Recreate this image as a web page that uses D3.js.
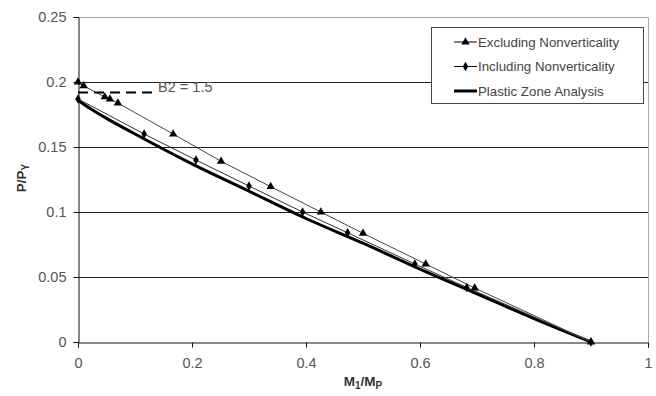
<!DOCTYPE html>
<html>
<head>
<meta charset="utf-8">
<script src="https://cdn.jsdelivr.net/npm/d3@7"></script>
<style>
  body { margin: 0; background: #fff; }
  text { font-family: "Liberation Sans", Arial, sans-serif; }
</style>
</head>
<body>
<div id="chart-area"></div>
<script>
// series: [M1/Mp, P/Py]
var excluding = [
  [0, 0.2], [0.01, 0.197], [0.047, 0.1885], [0.056, 0.1868], [0.07, 0.1838],
  [0.167, 0.16], [0.251, 0.139], [0.338, 0.1195], [0.426, 0.1], [0.5, 0.0836],
  [0.61, 0.06], [0.696, 0.0415], [0.9, 0]
];
var including = [
  [0, 0.187], [0.116, 0.16], [0.207, 0.14], [0.3, 0.12], [0.394, 0.1],
  [0.473, 0.084], [0.591, 0.06], [0.682, 0.042], [0.9, 0]
];
var plastic = [
  [0, 0.186], [0.02, 0.18], [0.05, 0.172], [0.1, 0.16], [0.2, 0.137],
  [0.3, 0.116], [0.4, 0.095], [0.5, 0.076], [0.6, 0.056], [0.7, 0.037],
  [0.8, 0.018], [0.9, 0]
];
var b2Line = [[0, 0.192], [0.13, 0.192]];
var b2Label = "B2 = 1.5";
var xTicks = [0, 0.2, 0.4, 0.6, 0.8, 1];
var yTicks = [0, 0.05, 0.1, 0.15, 0.2, 0.25];
var legendNames = ["Excluding Nonverticality", "Including Nonverticality", "Plastic Zone Analysis"];

var W = 656, H = 396;
var pLeft = 78, pRight = 648, pTop = 17, pBottom = 342;

var svg = d3.select("#chart-area")
  .append("svg")
  .attr("width", W)
  .attr("height", H);

var x = d3.scaleLinear().domain([0, 1]).range([pLeft, pRight]);
var y = d3.scaleLinear().domain([0, 0.25]).range([pBottom, pTop]);

// gridlines
svg.append("g")
  .selectAll("line")
  .data(yTicks.filter((d) => d > 0 && d < 0.25))
  .enter()
  .append("line")
  .attr("x1", pLeft)
  .attr("x2", pRight)
  .attr("y1", (d) => Math.round(y(d)) + 0.5)
  .attr("y2", (d) => Math.round(y(d)) + 0.5)
  .attr("stroke", "#222")
  .attr("stroke-width", 1);

// frame top/right
svg.append("path")
  .attr("d", `M${pLeft},${pTop + 0.5}H${pRight + 0.5}V${pBottom}`)
  .attr("fill", "none")
  .attr("stroke", "#aaa");

var fmt = (d) => d3.format("")(d);

var xAxis = svg.append("g")
  .attr("transform", `translate(0,${pBottom + 0.5})`)
  .call(d3.axisBottom(x).tickValues(xTicks).tickSize(5).tickPadding(9).tickFormat(fmt));
var yAxis = svg.append("g")
  .attr("transform", `translate(${pLeft + 0.5},0)`)
  .call(d3.axisLeft(y).tickValues(yTicks).tickSize(5).tickPadding(7).tickFormat(fmt));

[xAxis, yAxis].forEach((g) => {
  g.select(".domain").attr("stroke", "#111");
  g.selectAll(".tick line").attr("stroke", "#111");
  g.selectAll(".tick text")
    .attr("font-size", 14.5)
    .attr("fill", "#555")
    .attr("font-family", "'Liberation Sans', Arial, sans-serif");
});
xAxis.selectAll(".tick text").attr("dy", "0.8em");

var line = d3.line().x((d) => x(d[0])).y((d) => y(d[1]));

// plastic zone (thick)
svg.append("path")
  .datum(plastic)
  .attr("d", line.curve(d3.curveMonotoneX))
  .attr("fill", "none")
  .attr("stroke", "#000")
  .attr("stroke-width", 3);

line.curve(d3.curveLinear);

svg.append("path")
  .datum(including)
  .attr("d", line)
  .attr("fill", "none")
  .attr("stroke", "#333")
  .attr("stroke-width", 1);

svg.append("path")
  .datum(excluding)
  .attr("d", line)
  .attr("fill", "none")
  .attr("stroke", "#444")
  .attr("stroke-width", 1);

var tri = d3.symbol().type(d3.symbolTriangle).size(30);
var dia = d3.symbol().type(d3.symbolDiamond).size(26);

svg.append("g")
  .selectAll("path")
  .data(excluding)
  .enter()
  .append("path")
  .attr("d", tri)
  .attr("transform", (d) => `translate(${x(d[0])},${y(d[1])})`)
  .attr("fill", "#000");

svg.append("g")
  .selectAll("path")
  .data(including)
  .enter()
  .append("path")
  .attr("d", dia)
  .attr("transform", (d) => `translate(${x(d[0])},${y(d[1])})`)
  .attr("fill", "#000");

// B2 dashed line
svg.append("path")
  .datum(b2Line)
  .attr("d", line)
  .attr("stroke", "#000")
  .attr("stroke-width", 2)
  .attr("stroke-dasharray", "10,6")
  .attr("fill", "none");

svg.append("text")
  .attr("x", x(b2Line[1][0]) + 6)
  .attr("y", y(b2Line[1][1]) - 0.5)
  .attr("font-size", 14.5)
  .attr("fill", "#555")
  .text(b2Label);

// axis titles
svg.append("text")
  .attr("x", (pLeft + pRight) / 2)
  .attr("y", 386)
  .attr("text-anchor", "middle")
  .attr("font-size", 13.5)
  .attr("font-weight", "bold")
  .attr("fill", "#333")
  .call((t) => {
    t.append("tspan").text("M");
    t.append("tspan").attr("font-size", 10).attr("dy", 3).text("1");
    t.append("tspan").attr("dy", -3).text("/M");
    t.append("tspan").attr("font-size", 10).attr("dy", 3).text("P");
  });

svg.append("text")
  .attr("transform", "translate(26,178) rotate(-90)")
  .attr("text-anchor", "middle")
  .attr("font-size", 13.5)
  .attr("font-weight", "bold")
  .attr("fill", "#333")
  .call((t) => {
    t.append("tspan").text("P/P");
    t.append("tspan").attr("font-size", 10).attr("dy", 3).text("Y");
  });

// legend
var lg = svg.append("g");
lg.append("rect")
  .attr("x", 431.5).attr("y", 27.5)
  .attr("width", 212).attr("height", 76)
  .attr("fill", "#fff")
  .attr("stroke", "#444");

var rows = lg.selectAll("g.row")
  .data(legendNames)
  .enter()
  .append("g")
  .attr("transform", (d, i) => `translate(0,${42 + i * 24.5})`);

rows.append("line")
  .attr("x1", 454).attr("x2", 477)
  .attr("stroke", "#000")
  .attr("stroke-width", (d, i) => i === 2 ? 3 : 1);

rows.filter((d, i) => i < 2)
  .append("path")
  .attr("d", (d, i) => i === 0 ? tri() : dia())
  .attr("transform", "translate(465.5,0)")
  .attr("fill", "#000");

rows.append("text")
  .attr("x", 478)
  .attr("dy", "0.35em")
  .attr("font-size", 13.3)
  .attr("fill", "#444")
  .text((d) => d);
</script>
</body>
</html>
